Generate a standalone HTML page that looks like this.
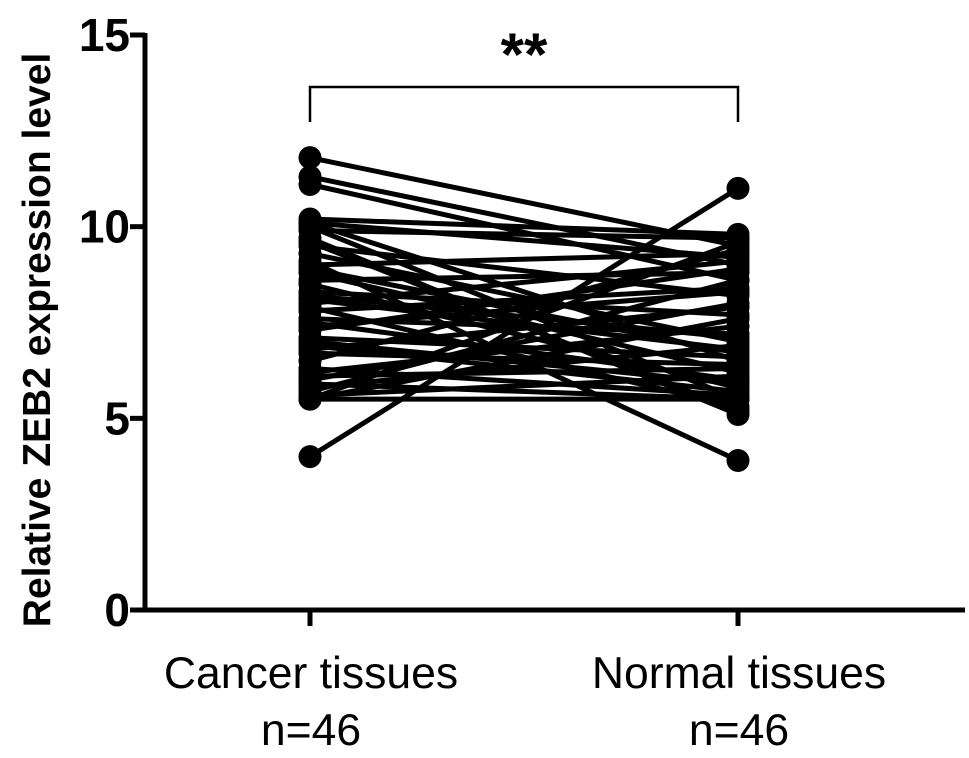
<!DOCTYPE html>
<html><head><meta charset="utf-8"><style>
body{margin:0;background:#fff}
svg{display:block;font-family:"Liberation Sans",Arial,sans-serif}
</style></head><body>
<svg id="chart" width="969" height="758" viewBox="0 0 969 758">
<g id="plot"></g>
<g id="axes"></g>
</svg>
<script>
const categories = ["Cancer tissues", "Normal tissues"];
const sampleLabels = ["n=46", "n=46"];
const yTicks = [0, 5, 10, 15];
const cancerValues = [11.8, 11.3, 11.1, 10.2, 10.1, 10.0, 9.9, 9.7, 9.5, 9.3, 9.1, 9.0, 8.8, 8.6, 8.5, 8.3, 8.1, 8.0, 7.9, 7.8, 7.6, 7.5, 7.3, 7.1, 7.0, 6.8, 6.7, 6.5, 6.3, 6.2, 6.0, 5.9, 5.8, 5.7, 5.6, 5.5, 5.5, 5.5, 6.1, 6.9, 7.4, 8.2, 8.9, 9.6, 10.1, 4.0];
const normalValues = [9.5, 9.0, 8.6, 9.8, 6.5, 5.5, 9.7, 5.1, 8.2, 7.0, 3.9, 9.3, 6.2, 8.8, 5.8, 7.7, 6.8, 9.1, 5.3, 8.4, 7.2, 6.0, 8.9, 6.6, 5.9, 7.9, 6.4, 9.4, 5.6, 7.4, 8.0, 5.5, 6.9, 8.6, 6.1, 5.5, 7.6, 9.6, 6.3, 5.7, 8.3, 7.1, 6.7, 5.2, 9.2, 11.0];
const annotation = "**";

const NS = "http://www.w3.org/2000/svg";
const X0 = 145, X1 = 965, Y0 = 610, Y1 = 35;
const catX = [310, 738];
function yScale(v){ return Y0 - (v - 0) / (15 - 0) * (Y0 - Y1); }
function xScale(i){ return catX[i]; }
function mk(tag, attrs, parent){
  const e = document.createElementNS(NS, tag);
  for (const k in attrs) e.setAttribute(k, attrs[k]);
  parent.appendChild(e); return e;
}
const plot = document.getElementById('plot');
const axes = document.getElementById('axes');

for (let i = 0; i < cancerValues.length; i++) {
  const l = mk('line', {x1: xScale(0), y1: yScale(cancerValues[i]), x2: xScale(1), y2: yScale(normalValues[i]), stroke: '#000', 'stroke-width': 5}, plot);
  
  
}
for (let i = 0; i < cancerValues.length; i++) {
  const c1 = mk('circle', {cx: xScale(0), cy: yScale(cancerValues[i]), r: 11.5, fill: '#000'}, plot);
  
  
  const c2 = mk('circle', {cx: xScale(1), cy: yScale(normalValues[i]), r: 11.5, fill: '#000'}, plot);
  
  
}

const ya = mk('line', {x1: X0, y1: Y1 - 2, x2: X0, y2: Y0 + 2, stroke: '#000', 'stroke-width': 5}, axes);


const xa = mk('line', {x1: X0 - 2, y1: Y0, x2: X1, y2: Y0, stroke: '#000', 'stroke-width': 5}, axes);



yTicks.forEach(t => {
  const y = yScale(t);
  const tk = mk('line', {x1: X0 - 15, y1: y, x2: X0, y2: y, stroke: '#000', 'stroke-width': 5}, axes);
  
  
  const tx = mk('text', {x: X0 - 15, y: y + 16, 'text-anchor': 'end', 'font-size': 46, 'font-weight': 'bold'}, axes);
  tx.textContent = t;
  
  
});

categories.forEach((c, i) => {
  const x = xScale(i);
  const tk = mk('line', {x1: x, y1: Y0, x2: x, y2: Y0 + 16, stroke: '#000', 'stroke-width': 5}, axes);
  
  
  const t1 = mk('text', {x: x + 1, y: 688, 'text-anchor': 'middle', 'font-size': 44.5}, axes);
  t1.textContent = c;
  
  
  const t2 = mk('text', {x: x + 1, y: 745, 'text-anchor': 'middle', 'font-size': 44.5}, axes);
  t2.textContent = sampleLabels[i];
  
  
});

const yt = mk('text', {x: 0, y: 0, 'text-anchor': 'middle', 'font-size': 39, 'font-weight': 'bold', transform: 'translate(50,340) rotate(-90)'}, axes);
yt.textContent = 'Relative ZEB2 expression level';



const br = mk('path', {d: `M${xScale(0)},122 V87 H${xScale(1)} V122`, fill: 'none', stroke: '#000', 'stroke-width': 2.5}, axes);


const st = mk('text', {x: (xScale(0) + xScale(1)) / 2, y: 75, 'text-anchor': 'middle', 'font-size': 60, 'font-weight': 'bold'}, axes);
st.textContent = annotation;


</script>
</body></html>
